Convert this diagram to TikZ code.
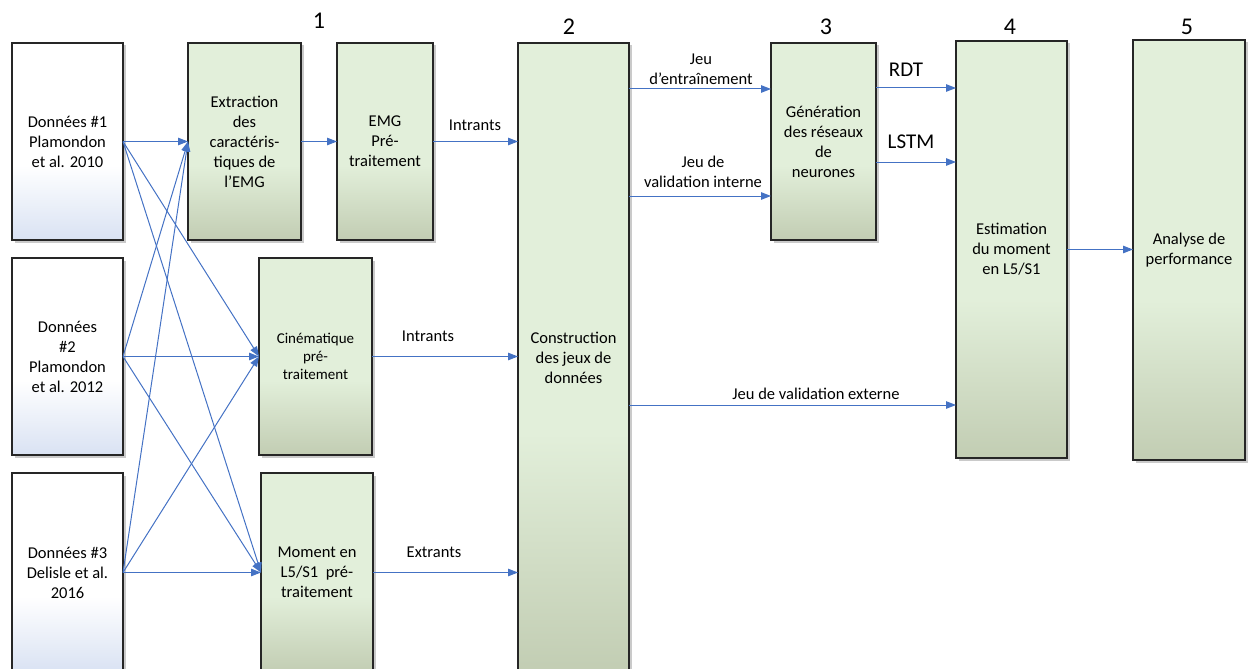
\documentclass[tikz,border=0pt]{standalone}
\usepackage{fontspec}
\setmainfont{Carlito}
\usetikzlibrary{arrows.meta,shadows,calc}
\definecolor{gtop}{HTML}{E2EFDA}
\definecolor{gbot}{HTML}{C2CDB3}
\definecolor{btop}{HTML}{FFFFFF}
\definecolor{bbot}{HTML}{D9E2F3}
\definecolor{arrc}{HTML}{4472C4}
\pgfdeclareverticalshading{greensh}{100bp}{color(0bp)=(gbot); color(25bp)=(gbot); color(44bp)=(gtop); color(100bp)=(gtop)}
\pgfdeclareverticalshading{bluesh}{100bp}{color(0bp)=(bbot); color(25bp)=(bbot); color(44bp)=(btop); color(100bp)=(btop)}
\begin{document}
\begin{tikzpicture}[x=1pt,y=-1pt,
  box/.style={draw=black!85, line width=1.1pt, inner sep=2pt, outer sep=0pt, align=center,
    font=\fontsize{16.5}{20}\selectfont,
    drop shadow={fill=black!60, opacity=0.35, shadow xshift=2.5pt, shadow yshift=-2.5pt}},
  gbox/.style={box, shading=greensh},
  bbox/.style={box, shading=bluesh},
  link/.style={draw=arrc, line width=1pt, -{Triangle[length=10pt,width=7.5pt]}},
  lab/.style={font=\fontsize{16.5}{20}\selectfont, align=center, inner sep=0pt},
  big/.style={font=\fontsize{21}{24}\selectfont, inner sep=0pt},
  num/.style={font=\fontsize{24}{28}\selectfont, inner sep=0pt}]
\useasboundingbox (0,0) rectangle (1251,669);

% data boxes
\node[bbox, minimum width=111pt, minimum height=197pt] (d1) at (67.5,141.5) {Données \#1\\Plamondon\\et al. 2010};
\node[bbox, minimum width=111pt, minimum height=197pt] (d2) at (67.5,356.5) {Données\\\#2\\Plamondon\\et al. 2012};
\node[bbox, minimum width=111pt, minimum height=199pt] (d3) at (67.5,572.5) {Données \#3\\Delisle et al.\\2016};

% step 1
\node[gbox, minimum width=113pt, minimum height=197pt] (ext) at (244.5,141.5) {Extraction\\des\\caractéris-\\tiques de\\l’EMG};
\node[gbox, minimum width=96pt, minimum height=197pt] (emg) at (385,141.5) {EMG\\Pré-\\traitement};
\node[gbox, minimum width=113pt, minimum height=197pt, font=\fontsize{15}{18}\selectfont] (cin) at (315.5,356.5) {Cinématique\\pré-\\traitement};
\node[gbox, minimum width=112pt, minimum height=199pt] (mom) at (317,572.5) {Moment en\\L5/S1~ pré-\\traitement};

% step 2
\node[gbox, minimum width=111pt, minimum height=629pt] (con) at (573.5,357.5) {Construction\\des jeux de\\données};
% step 3
\node[gbox, minimum width=105pt, minimum height=197pt] (gen) at (823.5,141.5) {Génération\\des réseaux\\de\\neurones};
% step 4
\node[gbox, minimum width=111pt, minimum height=417pt] (est) at (1011.5,249.5) {Estimation\\du moment\\en L5/S1};
% step 5
\node[gbox, minimum width=112pt, minimum height=420pt] (ana) at (1189,250) {Analyse de\\performance};

% numbers
\node[num] (n1) at (319,21) {1};
\node[num] (n2) at (569,27) {2};
\node[num] (n3) at (826,27) {3};
\node[num] (n4) at (1010,27) {4};
\node[num] (n5) at (1187,27) {5};

% crossing connectors
\foreach \s in {d1,d2,d3}{
  \draw[link] (\s.east) -- (ext.west);
  \draw[link] (\s.east) -- (cin.west);
  \draw[link] (\s.east) -- (mom.west);
}

\draw[link] (ext.east) -- (emg.west);
\draw[link] (emg.east) -- (emg.east -| con.west);
\draw[link] (cin.east) -- (cin.east -| con.west);
\draw[link] (mom.east) -- (mom.east -| con.west);

\path (gen.north west) ++(0,46) coordinate (g1);
\path (gen.north west) ++(0,153) coordinate (g2);
\draw[link] (g1 -| con.east) -- (g1);
\draw[link] (g2 -| con.east) -- (g2);

\path (est.north west) ++(0,47) coordinate (e1);
\path (est.north west) ++(0,121) coordinate (e2);
\path (est.north west) ++(0,364) coordinate (e3);
\draw[link] (e1 -| gen.east) -- (e1);
\draw[link] (e2 -| gen.east) -- (e2);
\draw[link] (e3 -| con.east) -- (e3);
\draw[link] (est.east) -- (est.east -| ana.west);

% labels
\node[lab] (l1) at (475,125) {Intrants};
\node[lab] (l2) at (428,336) {Intrants};
\node[lab] (l3) at (434,552) {Extrants};
\node[lab] (l4) at (701,69) {Jeu\\d’entraînement};
\node[lab] (l5) at (703,172) {Jeu de\\validation interne};
\node[big] (l6) at (906,70) {RDT};
\node[big] (l7) at (911,142) {LSTM};
\node[lab] (l8) at (816,394) {Jeu de validation externe};
\end{tikzpicture}
\end{document}
